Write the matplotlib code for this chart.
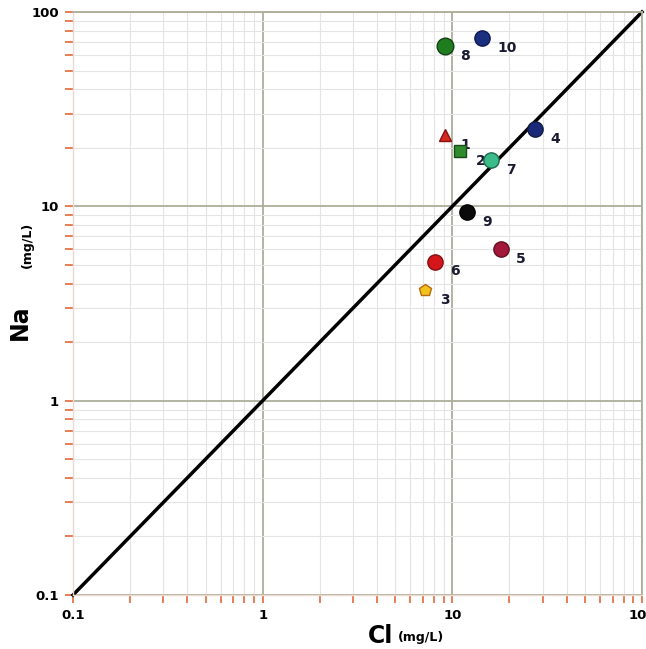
import numpy as np
import matplotlib
matplotlib.use('Agg')
import matplotlib.pyplot as plt
from matplotlib.ticker import LogLocator, FixedLocator, FixedFormatter, NullFormatter

# Sample data (mg/L)
ids = ['1', '2', '3', '4', '5', '6', '7', '8', '9', '10']
cl = [9.2, 11.0, 7.2, 27.2, 18.0, 8.1, 16.0, 9.1, 11.9, 14.3]
na = [23.3, 19.2, 3.7, 25.0, 6.0, 5.2, 17.3, 66.8, 9.3, 73.5]
markers = ['^', 's', 'p', 'o', 'o', 'o', 'o', 'o', 'o', 'o']
colors = ['#d42a1e', '#2e8b2e', '#f2c21c', '#1b2a78', '#a3173a', '#d4161a',
          '#3dbb8a', '#1f7d1f', '#0a0a0a', '#1b2f80']
edges = ['#8a1010', '#1a4a1a', '#b86a10', '#101a40', '#601020', '#801010',
         '#1f6a4a', '#124012', '#000000', '#101a50']
sizes = [8, 8, 9, 11, 11, 11, 11, 12, 11, 11]

major_ticks = [0.1, 1, 10, 100]
major_labels = ['0.1', '1', '10', '100']

fig = plt.figure(figsize=(6.46, 6.49), dpi=100)
ax = fig.add_axes([73/646, 54/649, 569/646, 583/649])
ax.set_xscale('log')
ax.set_yscale('log')
ax.set_xlim(0.1, 100)
ax.set_ylim(0.1, 100)

# grid
ax.grid(True, which='major', color='#aeae9a', lw=1.3, zorder=0)
ax.grid(True, which='minor', color='#e4e4e4', lw=0.8, zorder=0)

# 1:1 line
ax.plot([0.1, 100], [0.1, 100], color='black', lw=2.5, zorder=2, clip_on=False)

for i in range(len(ids)):
    ax.plot(cl[i], na[i], marker=markers[i], color=colors[i], markeredgecolor=edges[i],
            markeredgewidth=1.0, markersize=sizes[i], ls='none', zorder=3)
    ax.annotate(ids[i], (cl[i], na[i]), xytext=(11, -7), textcoords='offset points',
                fontsize=10, fontweight='bold', color='#1a1a30', va='center', ha='left')

for a in (ax.xaxis, ax.yaxis):
    a.set_major_locator(FixedLocator(major_ticks))
    a.set_major_formatter(FixedFormatter(major_labels))
    a.set_minor_locator(LogLocator(base=10, subs=np.arange(2, 10)))
    a.set_minor_formatter(NullFormatter())

ax.tick_params(which='both', direction='out', color='#e2683a', width=1.2, length=6,
               labelsize=9.5)
ax.tick_params(which='major', pad=4)
for lab in ax.get_xticklabels() + ax.get_yticklabels():
    lab.set_fontweight('bold')

for s in ['left', 'bottom']:
    ax.spines[s].set_color('#ecd8d0')
    ax.spines[s].set_linewidth(1.0)
for s in ['top', 'right']:
    ax.spines[s].set_color('#aeae9a')
    ax.spines[s].set_linewidth(1.3)

# axis titles
fig.text(20/646, 1 - 322/649, 'Na', rotation=90, fontsize=17, fontweight='bold',
         ha='center', va='center')
fig.text(27/646, 1 - 245/649, '(mg/L)', rotation=90, fontsize=9, fontweight='bold',
         ha='center', va='center')
fig.text(381/646, 1 - 636/649, 'Cl', fontsize=17, fontweight='bold',
         ha='center', va='center')
fig.text(398/646, 1 - 638/649, '(mg/L)', fontsize=9, fontweight='bold',
         ha='left', va='center')

fig.savefig('out.png', dpi=100)
